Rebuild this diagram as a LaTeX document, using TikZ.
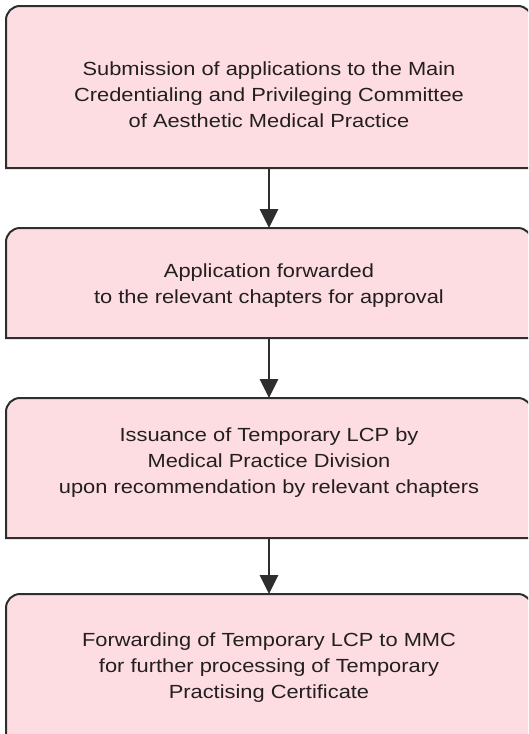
\documentclass[tikz,border=0pt]{standalone}
\usepackage{fontspec}
\setmainfont[FakeStretch=1.15]{Liberation Sans}
\usepackage{tikz}
\usetikzlibrary{arrows.meta}

\definecolor{stagefill}{HTML}{FDDDE2}
\definecolor{stageline}{HTML}{2E2E2E}
\definecolor{stagetext}{HTML}{231F20}

\newcommand{\stageframe}[1]{%
\filldraw[fill=stagefill, draw=stageline, line width=2pt]
  (#1.south west) [rounded corners=14pt] -- (#1.north west) -- (#1.north east)
  [sharp corners] -- (#1.south east) -- cycle;}

\begin{document}
\begin{tikzpicture}[x=1pt, y=-1pt,
  stage/.style={rectangle, minimum width=526pt, inner sep=0pt, outer sep=0pt},
  stagelabel/.style={align=center, text=stagetext, font=\fontsize{19}{26}\selectfont},
  flow/.style={-{Triangle[width=18pt,length=19pt]}, draw=stageline, line width=2.7pt}]
\useasboundingbox (0,0) rectangle (528,734);
\clip (0,0) rectangle (528,734);

\node [stage, minimum height=162pt] (b1) at (269,87) {};
\node [stage, minimum height=110pt] (b2) at (269,283) {};
\node [stage, minimum height=140pt] (b3) at (269,468) {};
\node [stage, minimum height=156pt] (b4) at (269,672) {};

\stageframe{b1}
\stageframe{b2}
\stageframe{b3}
\stageframe{b4}

\node [stagelabel] (t1) at (269,95) {Submission of applications to the Main\\Credentialing and Privileging Committee\\of Aesthetic Medical Practice};
\node [stagelabel] (t2) at (269,286) {Application forwarded\\to the relevant chapters for approval};
\node [stagelabel] (t3) at (269,463) {Issuance of Temporary LCP by\\Medical Practice Division\\upon recommendation by relevant chapters};
\node [stagelabel] (t4) at (269,668) {Forwarding of Temporary LCP to MMC\\for further processing of Temporary\\Practising Certificate};

\draw[flow] (b1) -- (b2);
\draw[flow] (b2) -- (b3);
\draw[flow] (b3) -- (b4);
\end{tikzpicture}
\end{document}
